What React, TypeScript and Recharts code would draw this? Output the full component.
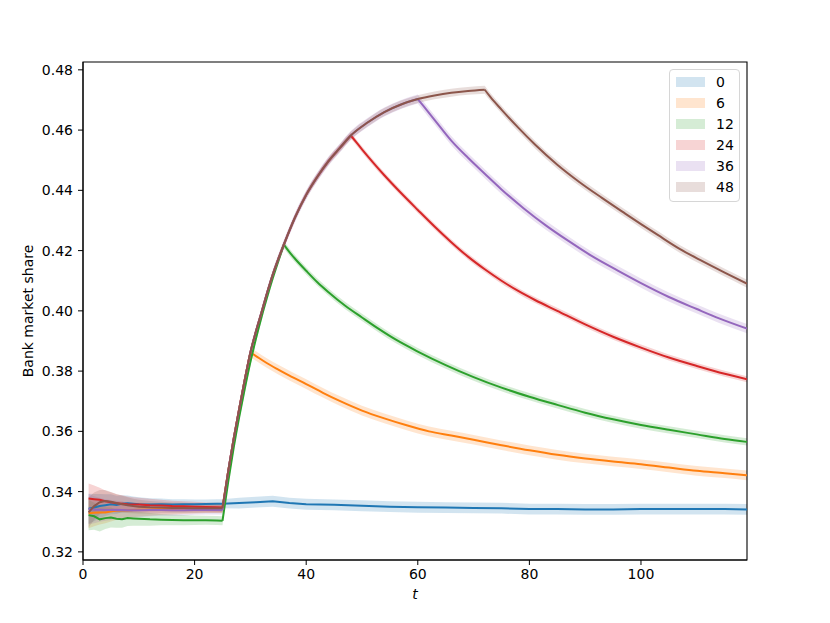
import {
    ComposedChart,
    Area,
    Line,
    XAxis,
    YAxis,
    ReferenceArea,
    Legend,
} from 'recharts';

document.body.style.margin = '0';

// time steps before the shock (shared by all series)
const T_PRE = [1, 2, 3, 4, 5, 6, 7, 8, 9, 10, 12, 14, 16, 18, 20, 22, 24, 25];
const SPREAD_PRE = [
    0.005, 0.0045, 0.004, 0.0036, 0.0033, 0.003, 0.0028, 0.0026, 0.0024, 0.0023,
    0.0021, 0.0019, 0.0018, 0.0017, 0.0016, 0.0015, 0.0015, 0.0015,
];

const PRE_0 = [0.3343, 0.3347, 0.3352, 0.3355, 0.3358, 0.3356, 0.336, 0.3361, 0.336, 0.3358, 0.3357, 0.3358, 0.3357, 0.3358, 0.3358, 0.3359, 0.336, 0.336];
const PRE_6 = [0.3328, 0.333, 0.3331, 0.3331, 0.3334, 0.3337, 0.3338, 0.3338, 0.3339, 0.334, 0.3341, 0.3342, 0.3342, 0.3343, 0.3343, 0.3344, 0.3344, 0.3344];
const PRE_12 = [0.3322, 0.3318, 0.3308, 0.3312, 0.3314, 0.331, 0.3308, 0.3312, 0.3311, 0.331, 0.3308, 0.3307, 0.3306, 0.3305, 0.3305, 0.3305, 0.3304, 0.3303];
const PRE_24 = [0.3377, 0.3375, 0.3373, 0.3368, 0.3365, 0.3361, 0.336, 0.3358, 0.3357, 0.3357, 0.3355, 0.3354, 0.3352, 0.3351, 0.335, 0.3349, 0.3348, 0.3347];
const PRE_36 = [0.3342, 0.334, 0.334, 0.3339, 0.3339, 0.334, 0.3339, 0.3338, 0.3338, 0.3338, 0.3339, 0.3339, 0.3338, 0.3338, 0.3339, 0.3339, 0.3339, 0.3339];
const PRE_48 = [0.3331, 0.3352, 0.3365, 0.3369, 0.3366, 0.3362, 0.3358, 0.3355, 0.3352, 0.335, 0.3348, 0.3347, 0.3346, 0.3346, 0.3345, 0.3345, 0.3345, 0.3345];

// common rise while the shock is on
const T_RISE = [26, 27, 28, 29, 30, 31, 32, 33, 34, 35, 36, 38, 40, 42, 44, 46, 48, 51, 54, 57, 60, 63, 66, 69, 72];
const RISE = [0.3465, 0.3575, 0.3675, 0.3772, 0.3862, 0.3932, 0.3995, 0.406, 0.412, 0.4172, 0.422, 0.431, 0.4385, 0.4445, 0.4497, 0.454, 0.4582, 0.4625, 0.466, 0.4685, 0.4703, 0.4715, 0.4724, 0.473, 0.4734];
const T_RISE_12 = [26, 27, 28, 29, 30, 31, 32, 33, 34, 35, 36];
const RISE_12 = [0.343, 0.3545, 0.3648, 0.3742, 0.383, 0.3908, 0.398, 0.4046, 0.4108, 0.4165, 0.422];

// no shock, after t = 25
const T_AFTER_0 = [28, 31, 34, 37, 40, 45, 50, 55, 60, 65, 70, 75, 80, 85, 90, 95, 100, 105, 110, 115, 119];
const AFTER_0 = [0.3362, 0.3365, 0.3368, 0.3362, 0.3358, 0.3356, 0.3353, 0.335, 0.3348, 0.3347, 0.3346, 0.3345, 0.3342, 0.3342, 0.3341, 0.3341, 0.3342, 0.3342, 0.3342, 0.3342, 0.3341];

// decay after the shock ends
const T_DECAY_6 = [31, 33, 35, 37, 40, 43, 46, 50, 54, 58, 62, 66, 70, 75, 80, 85, 90, 95, 100, 105, 110, 115, 119];
const DECAY_6 = [0.385, 0.3826, 0.3805, 0.3785, 0.3757, 0.3728, 0.3701, 0.3669, 0.3643, 0.362, 0.36, 0.3586, 0.3572, 0.3554, 0.3537, 0.3522, 0.351, 0.35, 0.3491, 0.348, 0.3469, 0.3461, 0.3454];
const T_DECAY_12 = [37, 38, 40, 42, 44, 47, 50, 53, 56, 60, 65, 70, 75, 80, 85, 90, 95, 100, 105, 110, 115, 119];
const DECAY_12 = [0.4195, 0.4173, 0.4133, 0.4095, 0.4062, 0.4017, 0.3978, 0.394, 0.3905, 0.3865, 0.382, 0.378, 0.3745, 0.3715, 0.3688, 0.3662, 0.364, 0.3621, 0.3605, 0.359, 0.3575, 0.3565];
const T_DECAY_24 = [49, 50, 52, 54, 57, 60, 63, 66, 69, 72, 75, 78, 81, 85, 90, 95, 100, 105, 110, 115, 119];
const DECAY_24 = [0.4559, 0.4536, 0.4492, 0.445, 0.4391, 0.4335, 0.428, 0.4228, 0.418, 0.4138, 0.41, 0.4066, 0.4036, 0.4, 0.3955, 0.3914, 0.3878, 0.3845, 0.3817, 0.3791, 0.3773];
const T_DECAY_36 = [61, 63, 66, 69, 72, 75, 79, 83, 87, 91, 96, 100, 105, 110, 114, 119];
const DECAY_36 = [0.468, 0.4634, 0.4565, 0.4508, 0.4455, 0.4403, 0.434, 0.4283, 0.4232, 0.4184, 0.4132, 0.4092, 0.4046, 0.4006, 0.3975, 0.3941];
const T_DECAY_48 = [73, 75, 78, 81, 85, 89, 93, 97, 100, 103, 107, 111, 115, 119];
const DECAY_48 = [0.471, 0.4668, 0.4608, 0.4552, 0.4485, 0.4427, 0.4375, 0.4325, 0.4288, 0.4252, 0.4205, 0.4165, 0.4127, 0.409];

const X_TICKS = [0, 20, 40, 60, 80, 100];
const Y_TICKS = [0.32, 0.34, 0.36, 0.38, 0.4, 0.42, 0.44, 0.46, 0.48];
const X_MAX = 119;
const Y_MIN = 0.3173;
const Y_MAX = 0.4826;
const SHOCK_START = 25;

type Punto = { t: number; v: number; band: [number, number] };

function armar(ts: number[], vs: number[], spreads: number[]): Punto[] {
    return ts.map((t, i) => ({
        t,
        v: vs[i],
        band: [vs[i] - spreads[i], vs[i] + spreads[i]],
    }));
}

// pre-shock + rise up to the peak + decay
function conShock(pre: number[], peak: number, tDecay: number[], decay: number[], spread: number) {
    const tRise = T_RISE.filter((t) => t <= peak);
    const rise = RISE.slice(0, tRise.length);
    const ts = [...T_PRE, ...tRise, ...tDecay];
    const vs = [...pre, ...rise, ...decay];
    const sp = [...SPREAD_PRE, ...ts.slice(T_PRE.length).map(() => spread)];
    return armar(ts, vs, sp);
}

// cut a series at the given t values, sharing the point at each cut
function tramos(data: Punto[], cortes: number[]) {
    const limites = [-Infinity, ...cortes, Infinity];
    const out: { data: Punto[]; curva: 'linear' | 'monotone' }[] = [];
    for (let i = 0; i < limites.length - 1; i++) {
        out.push({
            data: data.filter((p) => p.t >= limites[i] && p.t <= limites[i + 1]),
            curva: i === 0 ? 'linear' : 'monotone',
        });
    }
    return out;
}

const tsCero = [...T_PRE, ...T_AFTER_0];
const series = [
    {
        name: '0',
        color: '#1f77b4',
        cortes: [] as number[],
        data: armar(tsCero, [...PRE_0, ...AFTER_0], [...SPREAD_PRE, ...T_AFTER_0.map(() => 0.0018)]),
    },
    { name: '6', color: '#ff7f0e', cortes: [SHOCK_START, 30], data: conShock(PRE_6, 30, T_DECAY_6, DECAY_6, 0.0016) },
    {
        name: '12',
        color: '#2ca02c',
        cortes: [SHOCK_START, 36],
        data: armar(
            [...T_PRE, ...T_RISE_12, ...T_DECAY_12],
            [...PRE_12, ...RISE_12, ...DECAY_12],
            [...SPREAD_PRE, ...T_RISE_12.map(() => 0.0012), ...T_DECAY_12.map(() => 0.0012)],
        ),
    },
    { name: '24', color: '#d62728', cortes: [SHOCK_START, 48], data: conShock(PRE_24, 48, T_DECAY_24, DECAY_24, 0.001) },
    { name: '36', color: '#9467bd', cortes: [SHOCK_START, 60], data: conShock(PRE_36, 60, T_DECAY_36, DECAY_36, 0.0015) },
    { name: '48', color: '#8c564b', cortes: [SHOCK_START, 72], data: conShock(PRE_48, 72, T_DECAY_48, DECAY_48, 0.0013) },
];

const FUENTE = 'DejaVu Sans';

const EtiquetaY = ({ viewBox }: any) => {
    const cy = viewBox.y + viewBox.height / 2;
    return (
        <text
            x={27.5}
            y={cy}
            transform={`rotate(-90, 27.5, ${cy})`}
            textAnchor="middle"
            dominantBaseline="central"
            fontSize={14}
            fontFamily={FUENTE}
            fill="#000"
        >
            Bank market share
        </text>
    );
};

const EtiquetaX = ({ viewBox }: any) => (
    <text
        x={viewBox.x + viewBox.width / 2}
        y={viewBox.y + 39}
        textAnchor="middle"
        fontSize={14}
        fontStyle="italic"
        fontFamily={FUENTE}
        fill="#000"
    >
        t
    </text>
);

const Leyenda = () => (
    <div
        style={{
            boxSizing: 'border-box',
            width: 71,
            padding: '1px 0 3px 6px',
            border: '1px solid #d6d6d6',
            borderRadius: 4,
            background: '#fff',
            fontFamily: FUENTE,
            fontSize: 14,
            color: '#000',
        }}
    >
        {series.map((s) => (
            <div key={s.name} style={{ display: 'flex', alignItems: 'center', height: 21.1 }}>
                <span
                    style={{
                        display: 'inline-block',
                        width: 29,
                        height: 10,
                        background: s.color,
                        opacity: 0.2,
                        marginRight: 11,
                    }}
                />
                <span>{s.name}</span>
            </div>
        ))}
    </div>
);

export default function App() {
    return (
        <div style={{ width: 830, height: 623, background: '#fff' }}>
            <ComposedChart width={830} height={623} margin={{ top: 62, right: 83, left: 0, bottom: 0 }}>
                <XAxis
                    type="number"
                    dataKey="t"
                    domain={[0, X_MAX]}
                    ticks={X_TICKS}
                    allowDataOverflow
                    height={63}
                    stroke="#000"
                    tickSize={5}
                    tickMargin={4}
                    tick={{ fill: '#000', fontSize: 14, fontFamily: FUENTE }}
                    label={<EtiquetaX />}
                />
                <YAxis
                    type="number"
                    domain={[Y_MIN, Y_MAX]}
                    ticks={Y_TICKS}
                    allowDataOverflow
                    width={83}
                    stroke="#000"
                    tickSize={5}
                    tickMargin={5}
                    tick={{ fill: '#000', fontSize: 14, fontFamily: FUENTE }}
                    tickFormatter={(v: number) => v.toFixed(2)}
                    label={<EtiquetaY />}
                />
                {series.flatMap((s) =>
                    tramos(s.data, s.cortes).flatMap((tr, i) => [
                        <Area
                            key={`band-${s.name}-${i}`}
                            data={tr.data}
                            dataKey="band"
                            type={tr.curva}
                            stroke="none"
                            fill={s.color}
                            fillOpacity={0.2}
                            isAnimationActive={false}
                            legendType="none"
                        />,
                        <Line
                            key={`line-${s.name}-${i}`}
                            data={tr.data}
                            dataKey="v"
                            name={s.name}
                            type={tr.curva}
                            stroke={s.color}
                            strokeWidth={2}
                            dot={false}
                            isAnimationActive={false}
                        />,
                    ]),
                )}
                <ReferenceArea x1={0} x2={X_MAX} y1={Y_MIN} y2={Y_MAX} fill="none" stroke="#000" strokeWidth={1.1} />
                <Legend
                    layout="vertical"
                    align="center"
                    verticalAlign="middle"
                    content={<Leyenda />}
                    wrapperStyle={{ top: 69, left: 669, width: 71 }}
                />
            </ComposedChart>
        </div>
    );
}
